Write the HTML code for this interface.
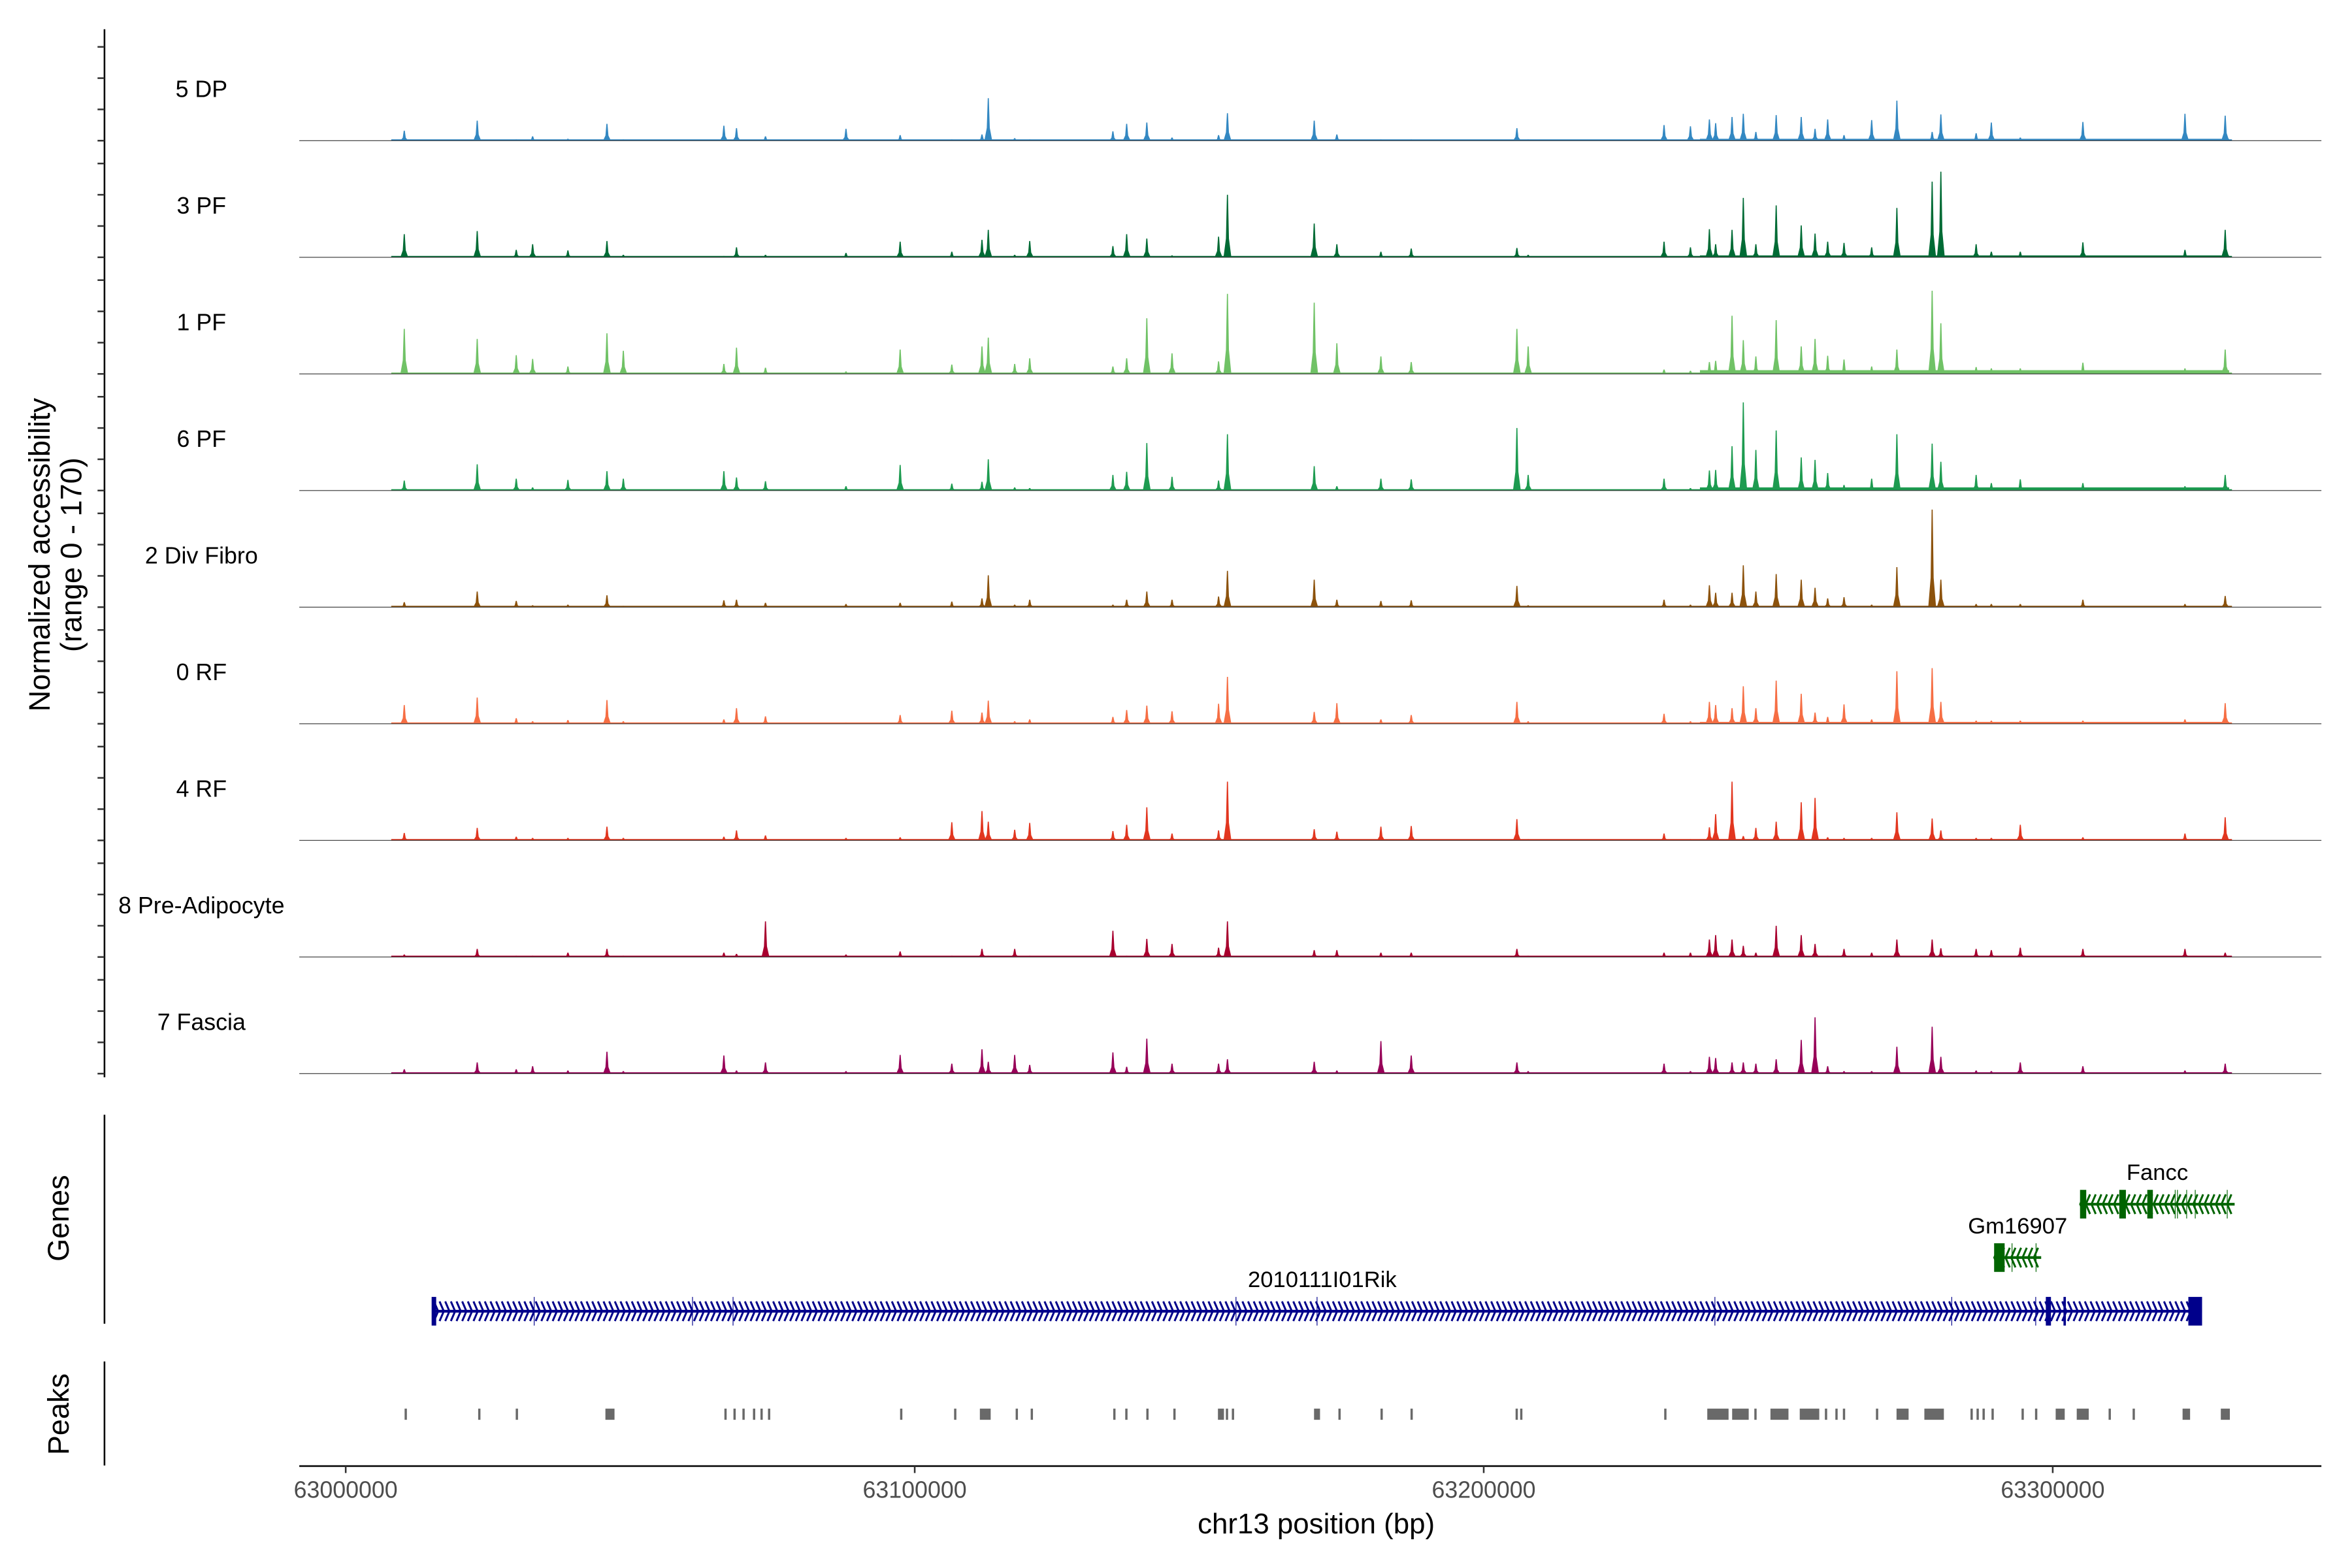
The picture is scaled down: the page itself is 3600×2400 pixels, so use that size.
<!DOCTYPE html>
<html><head><meta charset="utf-8"><style>
html,body{margin:0;padding:0;background:#fff;}
svg{display:block;font-family:"Liberation Sans",Arial,sans-serif;}
</style></head><body>
<svg id="chart" xmlns="http://www.w3.org/2000/svg" width="3600" height="2400" viewBox="0 0 1560 1040">
<rect x="0" y="0" width="1560" height="1040" fill="#fff"/>
<g id="tracks"></g>
<g id="yaxis">
<line x1="69.3" y1="19.4" x2="69.3" y2="714.5" stroke="#000" stroke-width="1.1"/>
</g>
<text transform="translate(33,368) rotate(-90)" text-anchor="middle" font-size="19.5" fill="#000">Normalized accessibility</text>
<text transform="translate(54,368) rotate(-90)" text-anchor="middle" font-size="19.5" fill="#000">(range 0 - 170)</text>
<line x1="69.3" y1="739.4" x2="69.3" y2="878" stroke="#000" stroke-width="1.1"/>
<text transform="translate(45.5,808) rotate(-90)" text-anchor="middle" font-size="19.5" fill="#000">Genes</text>
<line x1="69.3" y1="903" x2="69.3" y2="972" stroke="#000" stroke-width="1.1"/>
<text transform="translate(45.5,938) rotate(-90)" text-anchor="middle" font-size="19.5" fill="#000">Peaks</text>
<g id="genes"></g>
<g id="peaks"></g>
<g id="xaxis">
<line x1="198.5" y1="972.4" x2="1539.7" y2="972.4" stroke="#000" stroke-width="1.1"/>
</g>
<text x="873" y="1017" text-anchor="middle" font-size="19" fill="#000">chr13 position (bp)</text>
</svg>
<script>
const trackNames = ['5 DP','3 PF','1 PF','6 PF','2 Div Fibro','0 RF','4 RF','8 Pre-Adipocyte','7 Fascia'];
const trackColors = ['#3388C2','#006B35','#70C266','#1D9B50','#8C520C','#F66E44','#E2361F','#A8002E','#970058'];
const peakPositions = [63010290,63023110,63029970,63032850,63039050,63045910,63048790,63066460,63068680,63073770,63087920,63097440,63106520,63111820,63112930,63117570,63120210,63134830,63137250,63140790,63145220,63153400,63154960,63170210,63174190,63181930,63187260,63205830,63207810,63231690,63236330,63239660,63240760,63243640,63245620,63247830,63251400,63255800,63258230,63260450,63263320,63268180,63272610,63278810,63280340,63286540,63289210,63294300,63305300,63323240,63330310];
const heights5DP = [16,32,2,7,3,27,2,24,20,7,19,9,2,10,68,4,2,15,27,29,5,9,44,32,10,2,2,20,2,25,23,34,28,38,43,14,41,38,19,34,9,33,64,14,42,12,29,5,30,43,40];
const heights3PF = [37,42,12,21,11,26,4,2,16,4,7,25,9,28,44,4,26,18,37,30,3,33,100,54,21,9,14,15,4,25,16,45,21,44,95,21,83,51,38,25,23,16,79,121,137,21,9,9,24,12,44];
const heights1PF = [72,56,30,24,12,65,37,16,42,10,4,39,15,44,58,16,25,12,25,89,33,20,128,114,49,28,19,72,44,7,5,19,21,93,54,28,86,44,56,29,23,12,39,133,81,11,9,9,18,9,39];
const heights6PF = [16,42,19,5,17,31,19,31,21,15,7,41,11,14,50,5,4,25,30,76,22,16,90,39,7,19,18,100,25,19,4,32,33,71,141,65,96,53,49,28,9,19,90,75,46,25,12,18,12,7,25];
const heights2DivFibro = [8,25,10,3,4,19,2,11,12,7,5,7,9,14,51,4,12,4,12,25,12,17,58,44,12,10,11,34,3,12,4,35,23,23,67,25,53,44,31,14,16,4,64,156,44,5,5,5,12,5,18];
const heights0RF = [30,42,9,4,6,38,4,7,25,12,2,14,21,18,37,4,7,11,22,29,20,32,75,19,33,7,14,35,4,16,4,35,30,25,60,25,69,48,18,11,31,7,84,89,35,5,5,5,5,7,33];
const heights4RF = [12,20,6,4,4,22,4,6,16,8,4,5,29,47,30,17,28,15,25,53,11,16,94,18,14,22,23,34,2,11,2,21,42,94,7,20,30,61,68,5,4,4,45,35,16,4,4,25,5,11,37];
const heights8PreAdipocyte = [4,13,2,2,7,13,2,7,5,57,4,9,2,13,2,13,2,42,2,29,21,15,57,11,11,7,7,13,2,7,7,28,35,28,18,7,50,35,21,2,13,7,28,28,14,13,11,15,13,13,7];
const heights7Fascia = [7,18,7,12,5,35,4,29,5,18,4,30,16,39,19,30,14,34,11,56,16,16,23,19,5,52,29,18,4,16,4,27,25,18,18,16,23,54,90,12,4,4,43,75,27,5,4,18,12,5,16];
const floorLevels = [3,3,6,5,2,3,2,1,2];
const xTickValues = [63000000,63100000,63200000,63300000];
const xTickLabels = ['63000000','63100000','63200000','63300000'];
const yTickValues = [0,50,100,150];
const peakStarts = [63010350,63023280,63029880,63045640,63066550,63068140,63069720,63071570,63072890,63074210,63097430,63106920,63111450,63117740,63120380,63134890,63137000,63140700,63145450,63153290,63154680,63155730,63170180,63174460,63181860,63187130,63205600,63206400,63231720,63239290,63243660,63247560,63250390,63255540,63259960,63261800,63263120,63268930,63272550,63277440,63285550,63286610,63287660,63289240,63294520,63296890,63300520,63304220,63309820,63314040,63322820,63329540];
const peakEnds = [63010750,63023680,63030280,63047240,63066950,63068540,63070120,63071970,63073290,63074610,63097830,63107320,63113350,63118140,63120780,63135290,63137400,63141100,63145850,63154350,63155080,63156130,63171230,63174860,63182260,63187530,63206000,63206800,63232120,63243030,63246570,63247960,63253560,63258970,63260360,63262200,63263520,63269330,63274670,63280870,63285950,63287010,63288060,63289640,63294920,63297290,63302110,63306330,63310220,63314440,63324140,63331130];
const geneNames = ['2010111I01Rik','Gm16907','Fancc'];
const geneStarts = [63015476,63289700,63304800];
const geneEnds = [63326248,63297970,63331970];
const geneStrands = ['+','-','-'];
const geneRows = [0,1,2];
const geneColors = ['#00008B','#006400','#006400'];
const geneExonStarts = [[63015100,63298788,63301890,63323836],[63289700],[63304800,63311700,63316620]];
const geneExonEnds = [[63015900,63299690,63302235,63326248],[63291550],[63305890,63312860,63317600]];
const geneThinMarks = [[63033125,63060949,63068073,63156463,63170710,63240631,63282252,63297012],[63292850,63297070],[63321524,63321920,63323540,63325050,63330670]];

const heightSets = [heights5DP,heights3PF,heights1PF,heights6PF,heights2DivFibro,heights0RF,heights4RF,heights8PreAdipocyte,heights7Fascia];
const NS='http://www.w3.org/2000/svg';
const X0=229.3, PX_PER_BP=377.4/100000;
function xScale(bp){return X0+(bp-63000000)*PX_PER_BP;}
const TRACK_TOP0=93.3, TRACK_STEP=77.35, TRACK_H=70.5;
function baseline(i){return TRACK_TOP0+TRACK_STEP*i;}
function yScale(v){return v*TRACK_H/170;}
function mk(tag,attrs,parent){const e=document.createElementNS(NS,tag);for(const k in attrs)e.setAttribute(k,attrs[k]);parent.appendChild(e);return e;}

const tracksG=document.getElementById('tracks');
const yaxisG=document.getElementById('yaxis');
trackNames.forEach((name,i)=>{
  const b=baseline(i), col=trackColors[i];
  const g=mk('g',{},tracksG);
  
  
  const lab=mk('text',{x:133.6,y:b-29,'text-anchor':'middle','font-size':15.5,fill:'#000'},g);
  
  
  lab.textContent=name;
  const f1=mk('rect',{x:xScale(63008000),y:b-0.9,width:xScale(63331500)-xScale(63008000),height:0.9,fill:col},g);
  
  
  const f2=mk('rect',{x:xScale(63238000),y:b-yScale(floorLevels[i]),width:xScale(63331000)-xScale(63238000),height:yScale(floorLevels[i]),fill:col},g);
  
  
  const hs=heightSets[i];
  peakPositions.forEach((p,j)=>{
    const x=xScale(p), h=yScale(hs[j]);
    const d=`M${x-2.6},${b} L${x-1},${b-h*0.3} L${x-0.35},${b-h} L${x+0.35},${b-h} L${x+1},${b-h*0.3} L${x+2.6},${b} Z`;
    const pth=mk('path',{d:d,fill:col},g);
    
    
  });
  const bl=mk('line',{x1:198.5,y1:b,x2:1539.7,y2:b,stroke:'#333',"stroke-width":0.5},g);
  
  
  yTickValues.forEach(v=>{
    const yy=b-yScale(v);
    const t=mk('line',{x1:64.7,y1:yy,x2:69.3,y2:yy,stroke:'#333',"stroke-width":1.1},yaxisG);
    
    
  });
});

const xaxisG=document.getElementById('xaxis');
xTickValues.forEach((v,i)=>{
  const x=xScale(v);
  const t=mk('line',{x1:x,y1:972.4,x2:x,y2:977,stroke:'#333',"stroke-width":1.1},xaxisG);
  
  
  const l=mk('text',{x:x,y:993.5,'text-anchor':'middle','font-size':15.5,fill:'#4D4D4D'},xaxisG);
  
  
  l.textContent=xTickLabels[i];
});

const peaksG=document.getElementById('peaks');
peakStarts.forEach((s,i)=>{
  const r=mk('rect',{x:xScale(s),y:934.3,width:Math.max(0.7,xScale(peakEnds[i])-xScale(s)),height:7.4,fill:'#696969'},peaksG);
  
  
});

const genesG=document.getElementById('genes');
const rowY=[869.7,834.1,798.7];
geneNames.forEach((name,i)=>{
  const y=rowY[geneRows[i]], col=geneColors[i];
  const g=mk('g',{},genesG);
  
  
  const x1=xScale(geneStarts[i]), x2=xScale(geneEnds[i]);
  const ln=mk('line',{x1:x1,y1:y,x2:x2,y2:y,stroke:col,"stroke-width":1.8},g);
  
  
  let d='';
  const dir=geneStrands[i]==='+'?1:-1;
  for(let x=x1+1.5;x<=x2-1.5;x+=3.75){
    d+=`M${x-1.4*dir},${y-6.5} L${x+1.4*dir},${y} L${x-1.4*dir},${y+6.5} `;
  }
  const ch=mk('path',{d:d,stroke:col,"stroke-width":1.3,fill:'none'},g);
  
  
  geneThinMarks[i].forEach(p=>{
    const t=mk('line',{x1:xScale(p),y1:y-9.5,x2:xScale(p),y2:y+9.5,stroke:col,"stroke-width":0.5},g);
    
    
  });
  geneExonStarts[i].forEach((s,k)=>{
    const r=mk('rect',{x:xScale(s),y:y-9.5,width:Math.max(1.6,xScale(geneExonEnds[i][k])-xScale(s)),height:19,fill:col},g);
    
    
  });
  const lab=mk('text',{x:(i===0?877:(x1+x2)/2),y:y-16,'text-anchor':'middle','font-size':15,fill:'#000'},g);
  
  
  lab.textContent=name;
});
</script>
</body></html>
